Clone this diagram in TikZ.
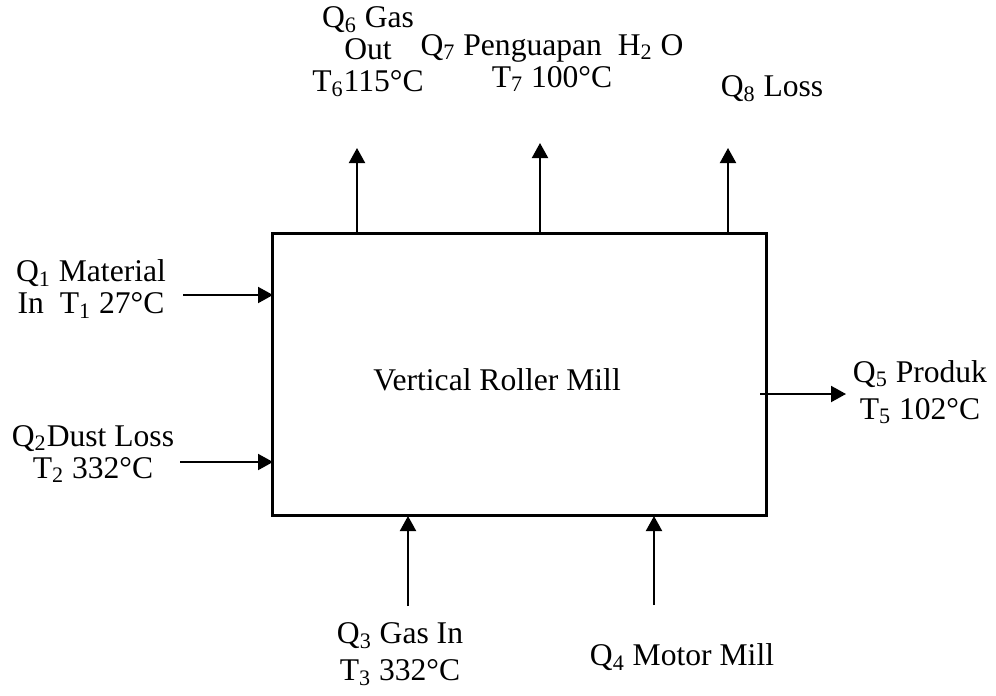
\documentclass[tikz,border=0pt]{standalone}
\usepackage{fontspec}
\setmainfont{Liberation Serif}
\usetikzlibrary{arrows.meta}
\newcommand{\qq}[2]{#1\textsubscript{#2}}
\begin{document}
\begin{tikzpicture}[x=0.5pt,y=-0.5pt,every node/.style={font=\fontsize{15.8}{16}\selectfont,align=center,inner sep=0pt},
 flow/.style={line width=1pt,-{Triangle[length=7.5pt,width=8pt]}}]
\useasboundingbox (0,0) rectangle (996,696);
% mill body
\node[draw,line width=1.5pt,minimum width=247pt,minimum height=141pt] (mill) at (519,374) {};
\node (millname) at (497,380) {Vertical Roller Mill};
% outgoing streams on top
\node (q6) at (368,52) {\qq{Q}{6} Gas\\Out\\\qq{T}{6}115\textdegree C};
\node (q7) at (552,63) {\qq{Q}{7} Penguapan\ \ H\textsubscript{2} O\\\qq{T}{7} 100\textdegree C};
\node (q8) at (772,89) {\qq{Q}{8} Loss};
\coordinate (q6a) at (357,233); \coordinate (q6b) at (357,148);
\coordinate (q7a) at (540,233); \coordinate (q7b) at (540,143);
\coordinate (q8a) at (728,233); \coordinate (q8b) at (728,148);
\draw[flow] (q6a) -- (q6b);
\draw[flow] (q7a) -- (q7b);
\draw[flow] (q8a) -- (q8b);
% inputs on the left
\node (q1) at (91,289) {\qq{Q}{1} Material\\In\ \ \qq{T}{1} 27\textdegree C};
\node (q2) at (93,454) {\qq{Q}{2}Dust Loss\\\qq{T}{2} 332\textdegree C};
\coordinate (q1a) at (183,295); \coordinate (q1b) at (273,295);
\coordinate (q2a) at (180,462); \coordinate (q2b) at (273,462);
\draw[flow] (q1a) -- (q1b);
\draw[flow] (q2a) -- (q2b);
% product on the right
\node[font=\fontsize{15.8}{18.5}\selectfont] (q5) at (920,392) {\qq{Q}{5} Produk\\\qq{T}{5} 102\textdegree C};
\coordinate (q5a) at (760,394); \coordinate (q5b) at (846,394);
\draw[flow] (q5a) -- (q5b);
% inputs from below
\node[font=\fontsize{15.8}{18.5}\selectfont] (q3) at (400,654) {\qq{Q}{3} Gas In\\\qq{T}{3} 332\textdegree C};
\node (q4) at (682,657) {\qq{Q}{4} Motor Mill};
\coordinate (q3a) at (408,606); \coordinate (q3b) at (408,516);
\coordinate (q4a) at (654,605); \coordinate (q4b) at (654,516);
\draw[flow] (q3a) -- (q3b);
\draw[flow] (q4a) -- (q4b);
\end{tikzpicture}
\end{document}
